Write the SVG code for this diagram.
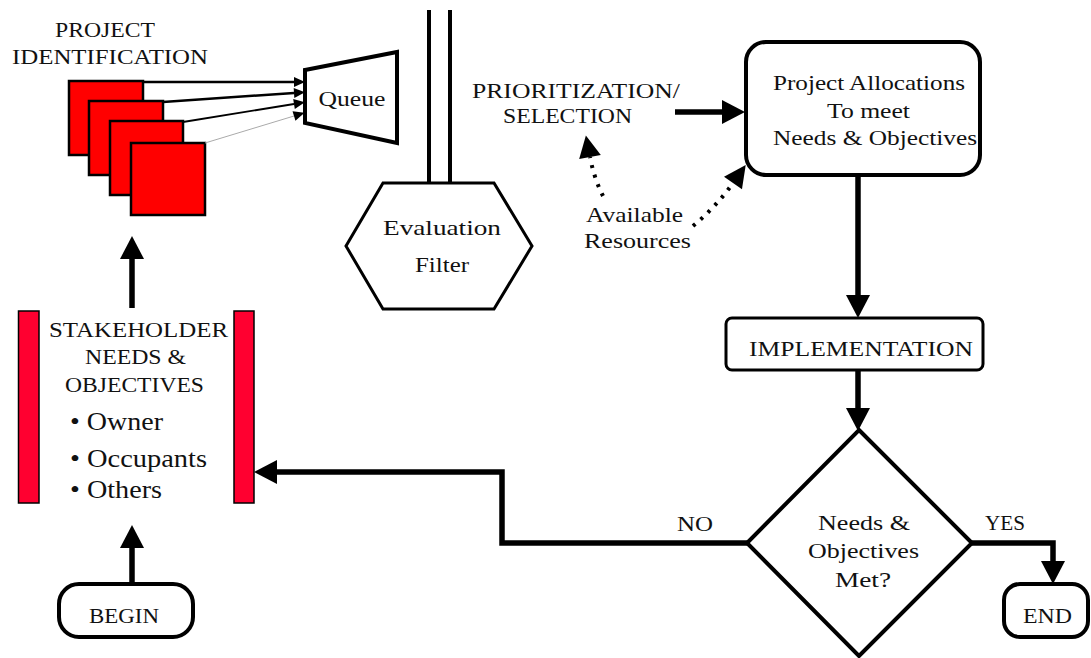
<svg xmlns="http://www.w3.org/2000/svg" width="1091" height="658" viewBox="0 0 1091 658">
<style>
text{font-family:'Liberation Serif','Times New Roman',Times,Tinos,'Noto Serif','DejaVu Serif','Nimbus Roman','Nimbus Roman No9 L',FreeSerif,'Linux Libertine',Georgia,serif;font-size:21px;fill:#111;}
.m{text-anchor:middle;}
.big{font-size:25px;}
.box{fill:#fff;stroke:#000;stroke-width:4;}
.conn{fill:none;stroke:#000;stroke-width:5.5;}
.dot{fill:none;stroke:#000;stroke-width:4;stroke-dasharray:3 7;}
.sq{fill:#ff0000;stroke:#000;stroke-width:2.5;}
.bar{fill:#ff0030;stroke:#000;stroke-width:1.5;}
</style>
<defs>
<marker id="hb" markerUnits="userSpaceOnUse" viewBox="0 -12 23 24" markerWidth="23" markerHeight="24" refX="0" refY="0" orient="auto" overflow="visible"><path d="M0,-12 L23,0 L0,12 z" fill="#000"/></marker>
<marker id="hs" markerUnits="userSpaceOnUse" viewBox="0 -5 11 10" markerWidth="11" markerHeight="10" refX="0" refY="0" orient="auto" overflow="visible"><path d="M0,-5 L11,0 L0,5 z" fill="#000"/></marker>
<marker id="hd" markerUnits="userSpaceOnUse" viewBox="0 -11 22 22" markerWidth="22" markerHeight="22" refX="0" refY="0" orient="auto" overflow="visible"><path d="M0,-11 L22,0 L0,11 z" fill="#000"/></marker>
</defs>
<g id="project-identification">
<text class="m" x="105" y="37" textLength="100" lengthAdjust="spacingAndGlyphs">PROJECT</text>
<text class="m" x="110" y="64" textLength="196" lengthAdjust="spacingAndGlyphs">IDENTIFICATION</text>
<rect class="sq" x="69" y="81" width="74" height="74"/>
<rect class="sq" x="89" y="101" width="74" height="74"/>
<rect class="sq" x="110" y="121" width="73" height="74"/>
<rect class="sq" x="131" y="143" width="74" height="72"/>
</g>

<g id="queue">
<polygon class="box" points="305,70 397,52 397,143 305,123"/>
<text class="m" x="352" y="106" textLength="67" lengthAdjust="spacingAndGlyphs">Queue</text>
</g>

<g id="evaluation-filter">
<line x1="429" y1="10" x2="429" y2="183" stroke="#000" stroke-width="4"/>
<line x1="450" y1="10" x2="450" y2="183" stroke="#000" stroke-width="4"/>
<polygon fill="#fff" stroke="#000" stroke-width="3" points="383,183 494,183 532,246 494,309 383,309 346,246"/>
<text class="m" x="442" y="235" textLength="118" lengthAdjust="spacingAndGlyphs">Evaluation</text>
<text class="m" x="442" y="272" textLength="54" lengthAdjust="spacingAndGlyphs">Filter</text>
</g>

<g id="prioritization">
<text class="m" x="576" y="98" textLength="208" lengthAdjust="spacingAndGlyphs">PRIORITIZATION/</text>
<text class="m" x="567.5" y="123" textLength="129" lengthAdjust="spacingAndGlyphs">SELECTION</text>
</g>

<g id="project-allocations">
<rect class="box" x="746" y="42" width="234" height="133" rx="20" ry="20"/>
<text class="m" x="869" y="90" font-size="23" textLength="192" lengthAdjust="spacingAndGlyphs">Project Allocations</text>
<text class="m" x="868.5" y="118" font-size="23" textLength="83" lengthAdjust="spacingAndGlyphs">To meet</text>
<text class="m" x="875" y="145" font-size="23" textLength="204" lengthAdjust="spacingAndGlyphs">Needs &amp; Objectives</text>
</g>

<g id="available-resources">
<text class="m" x="634.5" y="222" textLength="97" lengthAdjust="spacingAndGlyphs">Available</text>
<text class="m" x="637.5" y="248" textLength="107" lengthAdjust="spacingAndGlyphs">Resources</text>
</g>

<g id="implementation">
<rect fill="#fff" stroke="#000" stroke-width="3" x="726" y="318" width="257" height="52" rx="6" ry="6"/>
<text class="m" x="861" y="356" textLength="224" lengthAdjust="spacingAndGlyphs">IMPLEMENTATION</text>
</g>

<g id="decision">
<polygon class="box" points="859,430 972,543 859,656 747,543"/>
<text class="m" x="864" y="530" textLength="92" lengthAdjust="spacingAndGlyphs">Needs &amp;</text>
<text class="m" x="863.5" y="558" textLength="111" lengthAdjust="spacingAndGlyphs">Objectives</text>
<text class="m" x="863" y="587" textLength="56" lengthAdjust="spacingAndGlyphs">Met?</text>
</g>

<g id="end">
<rect class="box" x="1004" y="584" width="84" height="53" rx="16" ry="16"/>
<text class="m" x="1047.5" y="623" textLength="49" lengthAdjust="spacingAndGlyphs">END</text>
</g>

<g id="begin">
<rect class="box" x="59" y="584" width="134" height="53" rx="20" ry="20"/>
<text class="m" x="124" y="623" textLength="70" lengthAdjust="spacingAndGlyphs">BEGIN</text>
</g>

<g id="stakeholder">
<rect class="bar" x="18.5" y="311" width="20.5" height="192"/>
<rect class="bar" x="234" y="311" width="20" height="192"/>
<text class="m" x="138.5" y="337" textLength="179" lengthAdjust="spacingAndGlyphs">STAKEHOLDER</text>
<text class="m" x="135.5" y="364" textLength="101" lengthAdjust="spacingAndGlyphs">NEEDS &amp;</text>
<text class="m" x="134.5" y="392" textLength="139" lengthAdjust="spacingAndGlyphs">OBJECTIVES</text>
<text class="big" x="70" y="430" textLength="93" lengthAdjust="spacingAndGlyphs">• Owner</text>
<text class="big" x="70" y="467" textLength="137" lengthAdjust="spacingAndGlyphs">• Occupants</text>
<text class="big" x="70" y="498" textLength="92" lengthAdjust="spacingAndGlyphs">• Others</text>
</g>

<g id="labels">
<text class="m" x="695" y="531" textLength="36" lengthAdjust="spacingAndGlyphs">NO</text>
<text class="m" x="1005" y="530" textLength="40" lengthAdjust="spacingAndGlyphs">YES</text>
</g>

<g id="connectors">
<line x1="143" y1="82" x2="294" y2="82" stroke="#000" stroke-width="2.5" marker-end="url(#hs)"/>
<line x1="163" y1="102" x2="294" y2="93" stroke="#000" stroke-width="2.5" marker-end="url(#hs)"/>
<line x1="183" y1="122" x2="294" y2="104" stroke="#000" stroke-width="1.8" marker-end="url(#hs)"/>
<line x1="205" y1="143" x2="294" y2="116" stroke="#aaa" stroke-width="1" marker-end="url(#hs)"/>
<path class="conn" d="M675,112 H722" marker-end="url(#hb)"/>
<path class="dot" d="M603,196 Q594,178 590,157" marker-end="url(#hd)"/>
<path class="dot" d="M693,226 Q716,207 733,183" marker-end="url(#hd)"/>
<path class="conn" d="M858,175 V295" marker-end="url(#hb)"/>
<path class="conn" d="M858,370 V408" marker-end="url(#hb)"/>
<path class="conn" d="M747,543 H502 V472 H277" marker-end="url(#hb)"/>
<path class="conn" d="M972,543 H1053 V561" marker-end="url(#hb)"/>
<path class="conn" d="M132,584 V548" marker-end="url(#hb)"/>
<path class="conn" d="M132,308 V259" marker-end="url(#hb)"/>
</g>
</svg>
